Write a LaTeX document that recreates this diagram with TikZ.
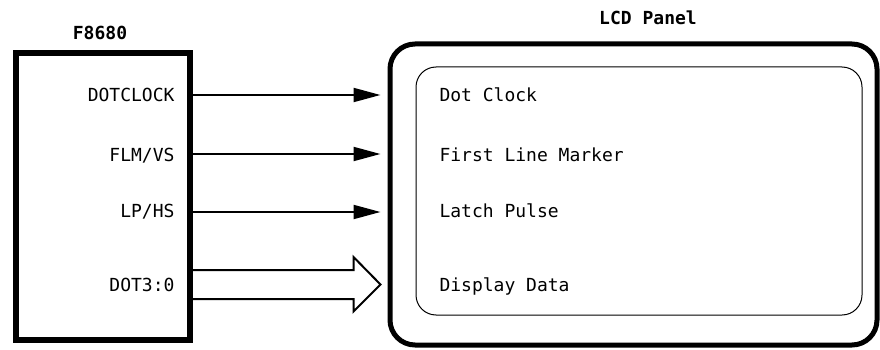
\documentclass[tikz,border=0pt]{standalone}
\usepackage{fontspec}
\setmonofont{DejaVu Sans Mono}
\usetikzlibrary{arrows.meta,calc}
\tikzset{
	sig/.style={line width=2pt,-{Triangle[length=27pt,width=14pt]}},
	pin/.style={anchor=base east,font=\ttfamily\fontsize{18}{20}\selectfont},
	func/.style={anchor=base west,font=\ttfamily\fontsize{18}{20}\selectfont},
	title/.style={font=\ttfamily\bfseries\fontsize{18}{20}\selectfont}
}
\begin{document}
\begin{tikzpicture}[x=1pt,y=-1pt]
		\useasboundingbox(0,0)rectangle(880,350);
		% the controller
		\node[draw,line width=6pt,minimum width=174pt,minimum height=287pt,inner sep=0](chip)at(103,196.5){};
		\node[title](chipname)at(100,33){F8680};
		\node[pin](dclk)at(178,102){DOTCLOCK};
		\node[pin](flm)at(178,161){FLM/VS};
		\node[pin](lp)at(178,217){LP/HS};
		\node[pin](dot)at(178,291){DOT3:0};
		% the panel
		\node[draw,line width=5pt,rounded corners=25pt,minimum width=487pt,minimum height=301pt,inner sep=0](panel)at(633.5,194.5){};
		\node[draw,line width=1pt,rounded corners=20pt,minimum width=446pt,minimum height=248pt,inner sep=0](screen)at(639,191){};
		\node[title](panelname)at(648,18){LCD Panel};
		\node[func](fdclk)at(436,102){Dot Clock};
		\node[func](fflm)at(436,161){First Line Marker};
		\node[func](flp)at(436,217){Latch Pulse};
		\node[func](fdot)at(436,291){Display Data};
		% signals
		\coordinate(r1)at(0,95);\coordinate(r2)at(0,154);\coordinate(r3)at(0,212);\coordinate(r4)at(0,284.5);
		\draw[sig](chip.east|-r1)--($(panel.west|-r1)+(-7,0)$);
		\draw[sig](chip.east|-r2)--($(panel.west|-r2)+(-7,0)$);
		\draw[sig](chip.east|-r3)--($(panel.west|-r3)+(-7,0)$);
		\coordinate(bustip)at($(panel.west|-r4)+(-7,0)$);
		\draw[line width=2pt,line join=miter]($(chip.east|-r4)+(0,-14.5)$)--($(bustip)+(-27,-14.5)$)--++(0,-13)--(bustip)
			--($(bustip)+(-27,27)$)--++(0,-12.5)--($(chip.east|-r4)+(0,14.5)$);
	\end{tikzpicture}
\end{document}
